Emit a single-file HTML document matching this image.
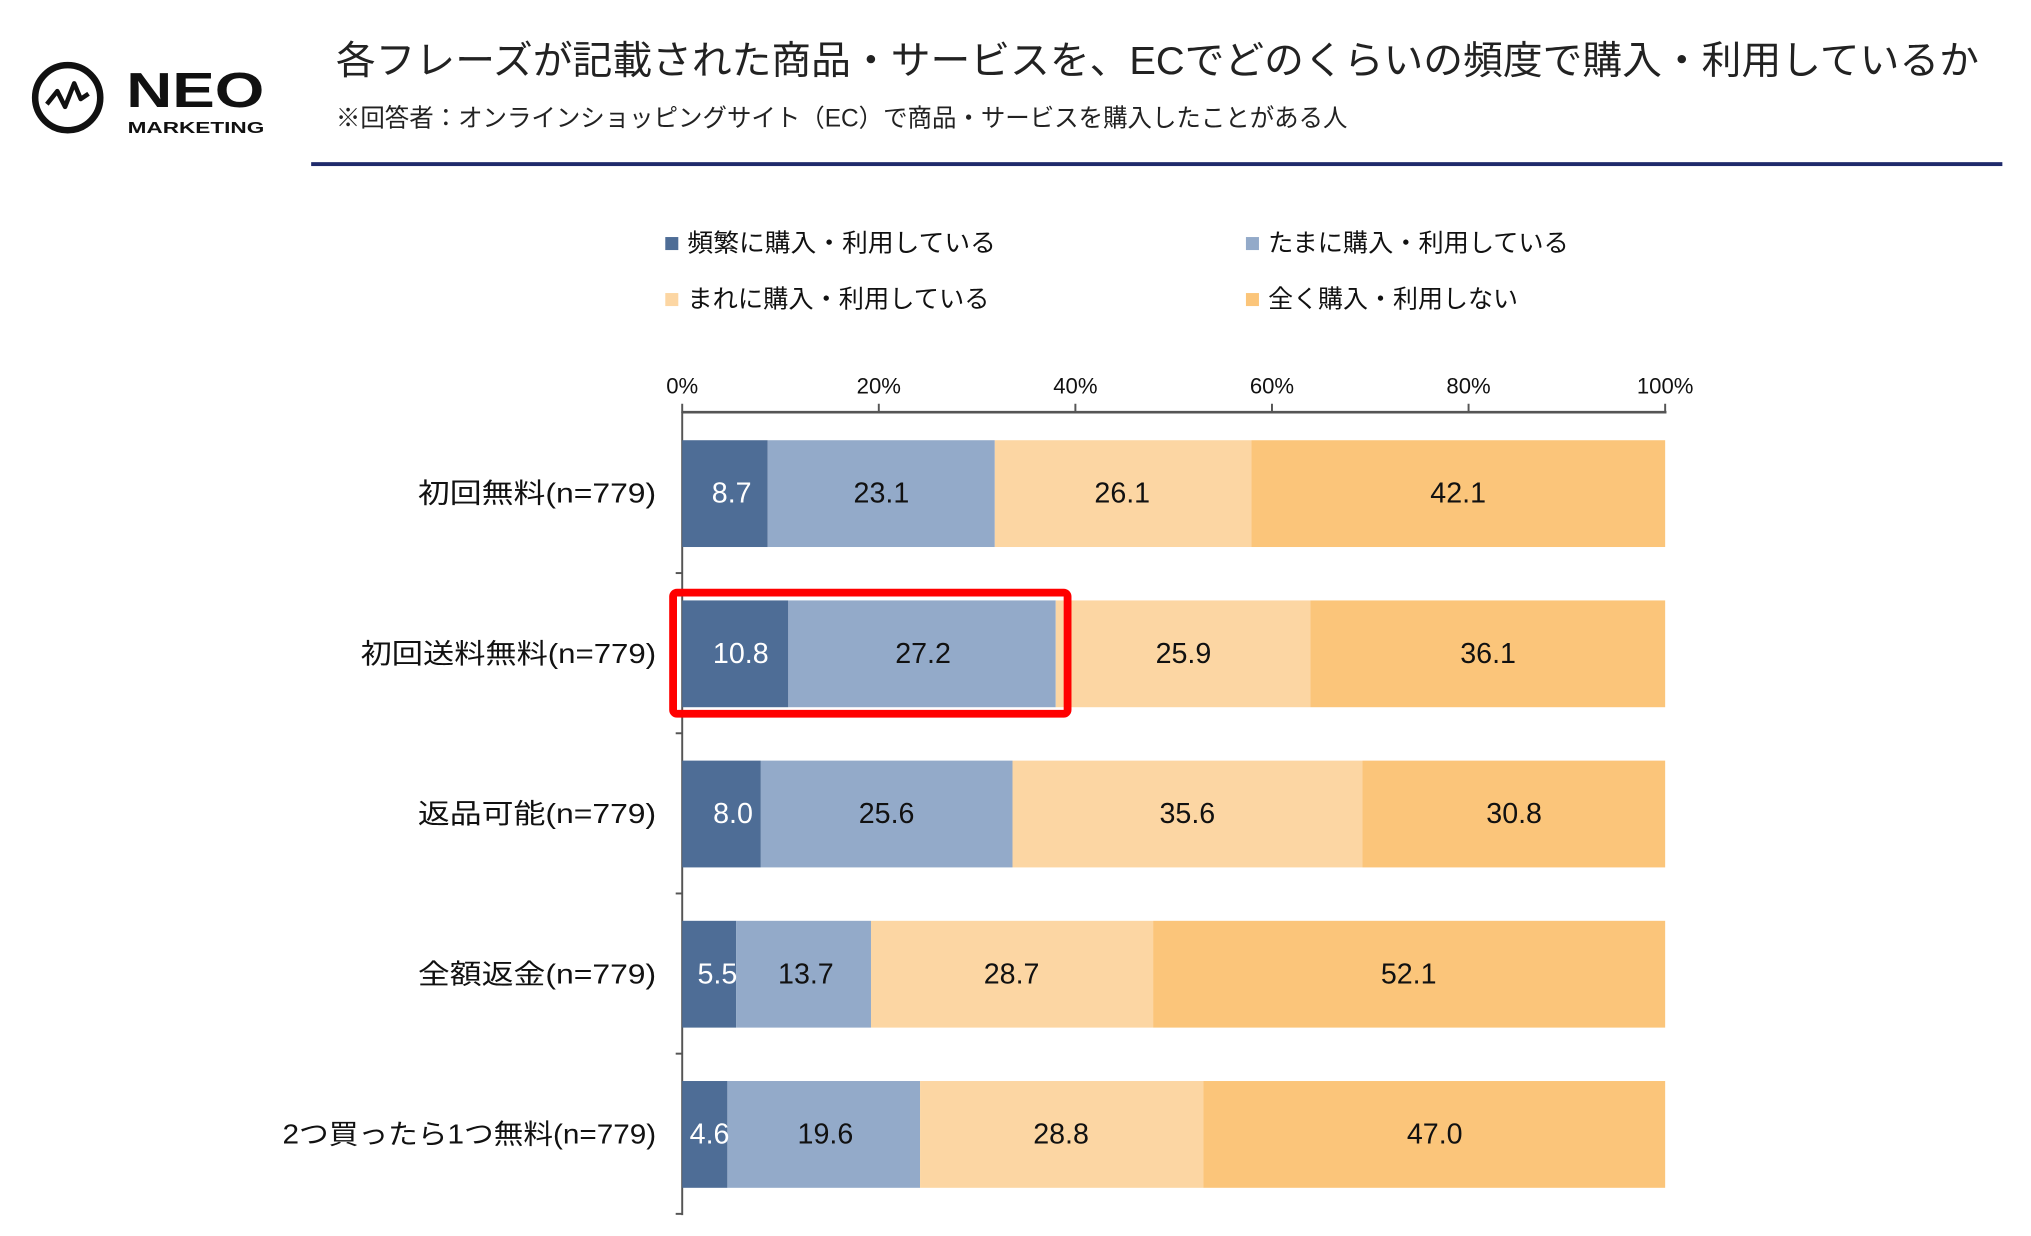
<!DOCTYPE html>
<html><head><meta charset="utf-8"><style>
html,body{margin:0;padding:0;background:#fff;}
svg{display:block;}
text{font-family:"Liberation Sans","Noto Sans CJK JP",sans-serif;}
</style></head><body>
<svg width="2031" height="1236" viewBox="0 0 1560 949" preserveAspectRatio="none" xmlns="http://www.w3.org/2000/svg">
<rect width="1560" height="949" fill="#fff"/>
<!-- logo -->
<circle cx="52" cy="75" r="25" fill="none" stroke="#111" stroke-width="5"/>
<polyline points="36,80 44,70 50,82 57,64 62,76 68,72" fill="none" stroke="#111" stroke-width="3.5" stroke-linejoin="round"/>
<text x="97" y="82" font-size="38" font-weight="bold" fill="#111" textLength="106" lengthAdjust="spacingAndGlyphs">NEO</text>
<text x="98" y="102" font-size="12" font-weight="bold" fill="#111" textLength="105" lengthAdjust="spacingAndGlyphs">MARKETING</text>
<!-- title -->
<text x="258" y="57" font-size="30" fill="#222" textLength="1262" lengthAdjust="spacingAndGlyphs">各フレーズが記載された商品・サービスを、ECでどのくらいの頻度で購入・利用しているか</text>
<text x="258" y="97" font-size="19" fill="#222" textLength="777" lengthAdjust="spacingAndGlyphs">※回答者：オンラインショッピングサイト（EC）で商品・サービスを購入したことがある人</text>
<rect x="239" y="124.5" width="1299" height="3" fill="#1f2a6b"/>
<!-- legend -->
<rect x="511" y="182" width="10" height="10" fill="#4e6d96"/>
<text x="528" y="193" font-size="19" fill="#111" textLength="237" lengthAdjust="spacingAndGlyphs">頻繁に購入・利用している</text>
<rect x="957" y="182" width="10" height="10" fill="#93aac9"/>
<text x="974" y="193" font-size="19" fill="#111" textLength="231" lengthAdjust="spacingAndGlyphs">たまに購入・利用している</text>
<rect x="511" y="225" width="10" height="10" fill="#fcd6a3"/>
<text x="528" y="236" font-size="19" fill="#111" textLength="232" lengthAdjust="spacingAndGlyphs">まれに購入・利用している</text>
<rect x="957" y="225" width="10" height="10" fill="#fbc57a"/>
<text x="974" y="236" font-size="19" fill="#111" textLength="192" lengthAdjust="spacingAndGlyphs">全く購入・利用しない</text>
<!-- axis labels -->
<g font-size="17" fill="#111" text-anchor="middle">
<text x="524" y="302">0%</text><text x="675" y="302">20%</text><text x="826" y="302">40%</text>
<text x="977" y="302">60%</text><text x="1128" y="302">80%</text><text x="1279" y="302">100%</text>
</g>
<g stroke="#555" stroke-width="1.5">
<line x1="524" y1="316.5" x2="1280" y2="316.5" stroke-width="2"/>
<line x1="524" y1="310" x2="524" y2="317"/><line x1="675" y1="310" x2="675" y2="317"/>
<line x1="826" y1="310" x2="826" y2="317"/><line x1="977" y1="310" x2="977" y2="317"/>
<line x1="1128" y1="310" x2="1128" y2="317"/><line x1="1279" y1="310" x2="1279" y2="317"/>
<line x1="524" y1="316" x2="524" y2="933"/>
<line x1="519" y1="440" x2="524" y2="440"/><line x1="519" y1="563" x2="524" y2="563"/>
<line x1="519" y1="686" x2="524" y2="686"/><line x1="519" y1="809" x2="524" y2="809"/>
<line x1="519" y1="932" x2="524" y2="932"/>
</g>
<!-- bars -->
<g>
<rect x="524" y="338" width="65.7" height="82" fill="#4e6d96"/>
<rect x="589.7" y="338" width="174.4" height="82" fill="#93aac9"/>
<rect x="764.1" y="338" width="197.1" height="82" fill="#fcd6a3"/>
<rect x="961.2" y="338" width="317.8" height="82" fill="#fbc57a"/>

<rect x="524" y="461" width="81.5" height="82" fill="#4e6d96"/>
<rect x="605.5" y="461" width="205.4" height="82" fill="#93aac9"/>
<rect x="810.9" y="461" width="195.5" height="82" fill="#fcd6a3"/>
<rect x="1006.4" y="461" width="272.6" height="82" fill="#fbc57a"/>

<rect x="524" y="584" width="60.4" height="82" fill="#4e6d96"/>
<rect x="584.4" y="584" width="193.3" height="82" fill="#93aac9"/>
<rect x="777.7" y="584" width="268.8" height="82" fill="#fcd6a3"/>
<rect x="1046.5" y="584" width="232.5" height="82" fill="#fbc57a"/>

<rect x="524" y="707" width="41.5" height="82" fill="#4e6d96"/>
<rect x="565.5" y="707" width="103.5" height="82" fill="#93aac9"/>
<rect x="669" y="707" width="216.7" height="82" fill="#fcd6a3"/>
<rect x="885.7" y="707" width="393.3" height="82" fill="#fbc57a"/>

<rect x="524" y="830" width="34.7" height="82" fill="#4e6d96"/>
<rect x="558.7" y="830" width="148" height="82" fill="#93aac9"/>
<rect x="706.7" y="830" width="217.5" height="82" fill="#fcd6a3"/>
<rect x="924.2" y="830" width="354.8" height="82" fill="#fbc57a"/>
</g>
<rect x="517" y="455" width="303" height="93" rx="3" fill="none" stroke="#f00" stroke-width="6"/>
<!-- category labels -->
<g font-size="21" fill="#111">
<text x="321" y="386" textLength="183" lengthAdjust="spacingAndGlyphs">初回無料(n=779)</text>
<text x="277" y="509" textLength="227" lengthAdjust="spacingAndGlyphs">初回送料無料(n=779)</text>
<text x="321" y="632" textLength="183" lengthAdjust="spacingAndGlyphs">返品可能(n=779)</text>
<text x="321" y="755" textLength="183" lengthAdjust="spacingAndGlyphs">全額返金(n=779)</text>
<text x="217" y="878" textLength="287" lengthAdjust="spacingAndGlyphs">2つ買ったら1つ無料(n=779)</text>
</g>
<!-- values -->
<g font-size="22" text-anchor="middle" fill="#111">
<text x="562" y="386" fill="#fff">8.7</text><text x="677" y="386">23.1</text><text x="862" y="386">26.1</text><text x="1120" y="386">42.1</text>
<text x="569" y="509" fill="#fff">10.8</text><text x="709" y="509">27.2</text><text x="909" y="509">25.9</text><text x="1143" y="509">36.1</text>
<text x="563" y="632" fill="#fff">8.0</text><text x="681" y="632">25.6</text><text x="912" y="632">35.6</text><text x="1163" y="632">30.8</text>
<text x="551" y="755" fill="#fff">5.5</text><text x="619" y="755">13.7</text><text x="777" y="755">28.7</text><text x="1082" y="755">52.1</text>
<text x="545" y="878" fill="#fff">4.6</text><text x="634" y="878">19.6</text><text x="815" y="878">28.8</text><text x="1102" y="878">47.0</text>
</g>
</svg>
</body></html>
